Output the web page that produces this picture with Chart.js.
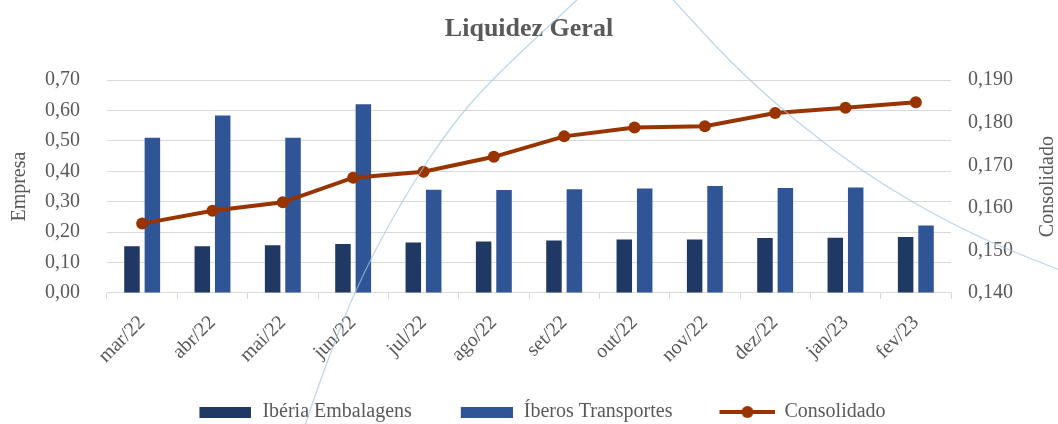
<!DOCTYPE html>
<html lang="pt">

<head>
  <meta charset="UTF-8" />
  <title>Liquidez Geral</title>
  <style>
    body {
      margin: 0;
      background: #fff;
    }

    div.box {
      width: 1058px;
      height: 424px;
      position: relative;
    }
  </style>
  <script src="https://cdn.jsdelivr.net/npm/chart.js"></script>
</head>

<body>
  <div class="box">
    <canvas id="chart"></canvas>
  </div>
</body>

</html>
<script>
  // data
  const months = ['mar/22', 'abr/22', 'mai/22', 'jun/22', 'jul/22', 'ago/22', 'set/22', 'out/22', 'nov/22', 'dez/22', 'jan/23', 'fev/23']
  const iberia = [0.154, 0.154, 0.157, 0.161, 0.166, 0.169, 0.173, 0.176, 0.176, 0.181, 0.182, 0.184]
  const iberos = [0.511, 0.584, 0.511, 0.621, 0.340, 0.339, 0.341, 0.344, 0.352, 0.345, 0.347, 0.222]
  const consolidado = [0.1563, 0.1593, 0.1613, 0.1671, 0.1685, 0.1720, 0.1768, 0.1789, 0.1792, 0.1823, 0.1835, 0.1848]
  const leftTicks = [0, 0.7, 0.1]
  const rightTicks = [0.14, 0.19, 0.01]

  const dark = '#203864'
  const blue = '#2f5597'
  const red = '#993300'
  const grey = '#595959'
  const font = "'Liberation Serif', serif"

  // little pictures for the legend (left margin = extra gap between items)
  function swatch(color) {
    const c = document.createElement('canvas')
    c.width = 78; c.height = 11
    const x = c.getContext('2d')
    x.fillStyle = color
    x.fillRect(26, 0, 52, 11)
    return c
  }
  function lineSwatch() {
    const c = document.createElement('canvas')
    c.width = 82; c.height = 14
    const x = c.getContext('2d')
    x.strokeStyle = red; x.lineWidth = 4
    x.beginPath(); x.moveTo(26, 7); x.lineTo(82, 7); x.stroke()
    x.fillStyle = red
    x.beginPath(); x.arc(54, 7, 6, 0, Math.PI * 2); x.fill()
    return c
  }
  const legendPics = [swatch(dark), swatch(blue), lineSwatch()]

  // the faint decorative arc behind the picture
  const arcLeft = [[303, 432], [313, 400], [353, 293], [402, 200], [450, 127], [493, 78], [577, 0], [600, -22]]
  const arcRight = [[655, -20], [673, 0], [750, 83], [857, 170], [967, 233], [1062, 271]]

  function smooth(ctx, pts) {
    ctx.beginPath()
    ctx.moveTo(pts[0][0], pts[0][1])
    for (let i = 1; i < pts.length - 1; i++) {
      const mx = (pts[i][0] + pts[i + 1][0]) / 2
      const my = (pts[i][1] + pts[i + 1][1]) / 2
      ctx.quadraticCurveTo(pts[i][0], pts[i][1], mx, my)
    }
    const last = pts[pts.length - 1]
    ctx.lineTo(last[0], last[1])
    ctx.stroke()
  }

  const extras = {
    id: 'extras',
    afterDraw(chart) {
      const ctx = chart.ctx
      ctx.save()
      ctx.strokeStyle = 'rgba(160,200,222,0.7)'
      ctx.lineWidth = 1.3
      smooth(ctx, arcLeft)
      smooth(ctx, arcRight)

      // right axis title reads bottom to top, like the left one
      const a = chart.chartArea
      ctx.fillStyle = grey
      ctx.font = "20px " + font
      ctx.textAlign = 'center'
      ctx.textBaseline = 'middle'
      ctx.translate(1048, (a.top + a.bottom) / 2)
      ctx.rotate(-Math.PI / 2)
      ctx.fillText('Consolidado', 0, 0)
      ctx.restore()
    }
  }

  const fmt = (d) => (v) => v.toFixed(d).replace('.', ',')

  new Chart(document.querySelector('#chart'), {
    data: {
      labels: months,
      datasets: [{
        type: 'bar',
        label: 'Ibéria Embalagens',
        data: iberia,
        backgroundColor: dark,
        yAxisID: 'y',
        order: 1
      }, {
        type: 'bar',
        label: 'Íberos Transportes',
        data: iberos,
        backgroundColor: blue,
        yAxisID: 'y',
        order: 1
      }, {
        type: 'line',
        label: 'Consolidado',
        data: consolidado,
        borderColor: red,
        backgroundColor: red,
        borderWidth: 4,
        pointRadius: 6,
        pointBackgroundColor: red,
        pointBorderWidth: 0,
        yAxisID: 'y1',
        order: 0
      }]
    },
    options: {
      responsive: true,
      maintainAspectRatio: false,
      animation: false,
      datasets: {
        bar: { categoryPercentage: 0.58, barPercentage: 0.76 }
      },
      layout: { padding: { top: 14, bottom: -8 } },
      plugins: {
        title: {
          display: true,
          text: 'Liquidez Geral',
          color: grey,
          font: { family: font, size: 26, weight: 'bold' },
          padding: { top: 0, bottom: 35 }
        },
        legend: {
          position: 'bottom',
          labels: {
            usePointStyle: true,
            pointStyleWidth: 80,
            boxHeight: 12,
            padding: 22,
            color: grey,
            font: { family: font, size: 20 },
            generateLabels: (chart) => chart.data.datasets.map((ds, i) => ({
              text: ds.label,
              pointStyle: legendPics[i],
              fillStyle: ds.backgroundColor,
              strokeStyle: ds.backgroundColor,
              lineWidth: 0,
              fontColor: grey,
              datasetIndex: i
            }))
          }
        },
        tooltip: { enabled: false }
      },
      scales: {
        x: {
          grid: { drawOnChartArea: false, drawTicks: true, tickLength: 6, color: '#d9d9d9' },
          border: { color: '#d9d9d9' },
          ticks: { color: grey, font: { family: font, size: 20 }, minRotation: 45, maxRotation: 45, padding: 12 }
        },
        y: {
          position: 'left',
          min: leftTicks[0], max: leftTicks[1],
          afterFit: (s) => { s.width = 107 },
          grid: { color: '#d9d9d9', drawTicks: false },
          border: { display: false },
          title: { display: true, text: 'Empresa', color: grey, font: { family: font, size: 20 }, padding: { top: 8 } },
          ticks: { stepSize: leftTicks[2], color: grey, font: { family: font, size: 20 }, padding: 27, callback: fmt(2) }
        },
        y1: {
          position: 'right',
          min: rightTicks[0], max: rightTicks[1],
          afterFit: (s) => { s.width = 107 },
          grid: { drawOnChartArea: false, drawTicks: false },
          border: { display: false },
          ticks: { stepSize: rightTicks[2], color: grey, font: { family: font, size: 20 }, padding: 17, callback: fmt(3) }
        }
      }
    },
    plugins: [extras]
  })
</script>
